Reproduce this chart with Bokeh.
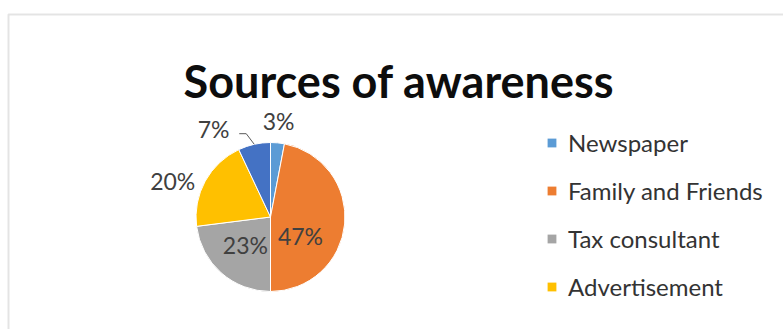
import math
from bokeh.plotting import figure
from bokeh.models import Range1d, Label, LegendItem, Legend, BoxAnnotation, ColumnDataSource
from bokeh.core.properties import value
from bokeh.embed import file_html
from bokeh.resources import INLINE

# ---- data ----
categories = ["Newspaper", "Family and Friends", "Tax consultant", "Advertisement", "Other"]
shares = [3, 47, 23, 20, 7]
label_texts = ["3%", "47%", "23%", "20%", "7%"]
legend_count = 4  # only the first four appear in the legend

# ---- style ----
colors = ["#5B9BD5", "#ED7D31", "#A5A5A5", "#FFC000", "#4472C4"]
W, H = 783, 329
CX, CY, R = 270, 216.5, 74.5           # pie centre / radius in pixels (from top)
label_radius_factor = [1.29, 0.48, 0.50, 1.40, 1.41]
label_angle_nudge = [-0.6, 27.6, 0.9, -8.4, -20.2]   # degrees
leader_for = [False, False, False, False, True]
FONT = "Lato"

def fy(py):
    return H - py

p = figure(width=W, height=H, output_backend="svg", toolbar_location=None,
           x_range=Range1d(0, W), y_range=Range1d(0, H), min_border=0)
p.axis.visible = False
p.grid.visible = False
p.outline_line_color = None
p.background_fill_color = "white"
p.border_fill_color = "white"

# chart area border (top & left visible)
p.add_layout(BoxAnnotation(left=8, right=W + 50, top=fy(14), bottom=-50,
                           fill_alpha=0, line_color="#a6a6a6", line_width=2))

# ---- pie ----
total = sum(shares)
starts, ends, mids = [], [], []
cum = 0
for s in shares:
    a0 = cum / total * 360
    cum += s
    a1 = cum / total * 360
    starts.append(math.radians(90 - a0))
    ends.append(math.radians(90 - a1))
    mids.append((a0 + a1) / 2)

renderers = []
for i, cat in enumerate(categories):
    src = ColumnDataSource(dict(x=[CX], y=[fy(CY)], sa=[starts[i]], ea=[ends[i]]))
    r = p.wedge(x="x", y="y", radius=R, start_angle="sa", end_angle="ea",
                direction="clock", fill_color=colors[i], line_color="white",
                line_width=1, source=src)
    renderers.append(r)

# legend swatches (filled boxes; NaN position so nothing is drawn on the plot)
nan = float("nan")
swatches = []
for i in range(legend_count):
    s = p.quad(left=[nan], right=[nan], top=[nan], bottom=[nan],
               fill_color=colors[i], line_color=None)
    swatches.append(s)

# ---- labels ----
lx, ly = [], []
for i in range(len(shares)):
    ang = math.radians(mids[i] + label_angle_nudge[i])
    d = R * label_radius_factor[i]
    px = CX + d * math.sin(ang)
    py = CY - d * math.cos(ang)
    lx.append(px)
    ly.append(fy(py))
    if leader_for[i]:
        m = math.radians(mids[i])
        ex = CX + R * math.sin(m)
        ey = CY - R * math.cos(m)
        p.line([ex, ex - 8, ex - 15], [fy(ey), fy(py + 5), fy(py + 5)],
               line_color="#595959", line_width=1)

p.text(x=lx, y=ly, text=label_texts, text_align="center", text_baseline="middle",
       text_font=value(FONT), text_font_size="23px", text_color="#404040")

# ---- title ----
p.add_layout(Label(x=398.5, y=fy(80), text="Sources of awareness", text_align="center",
                   text_baseline="alphabetic", text_font=FONT, text_font_size="45px",
                   text_font_style="bold", text_color="#0d0d0d"))

# ---- legend ----
items = [LegendItem(label=categories[i], renderers=[swatches[i]]) for i in range(legend_count)]
legend = Legend(items=items, location=(546, H - 301.5), padding=0, margin=0,
                border_line_color=None, background_fill_alpha=0,
                glyph_width=11, glyph_height=11, label_standoff=11,
                label_height=30, spacing=18,
                label_text_font=FONT, label_text_font_size="24px",
                label_text_color="#333333")
p.add_layout(legend)

open("out.html", "w").write(file_html(p, INLINE))
